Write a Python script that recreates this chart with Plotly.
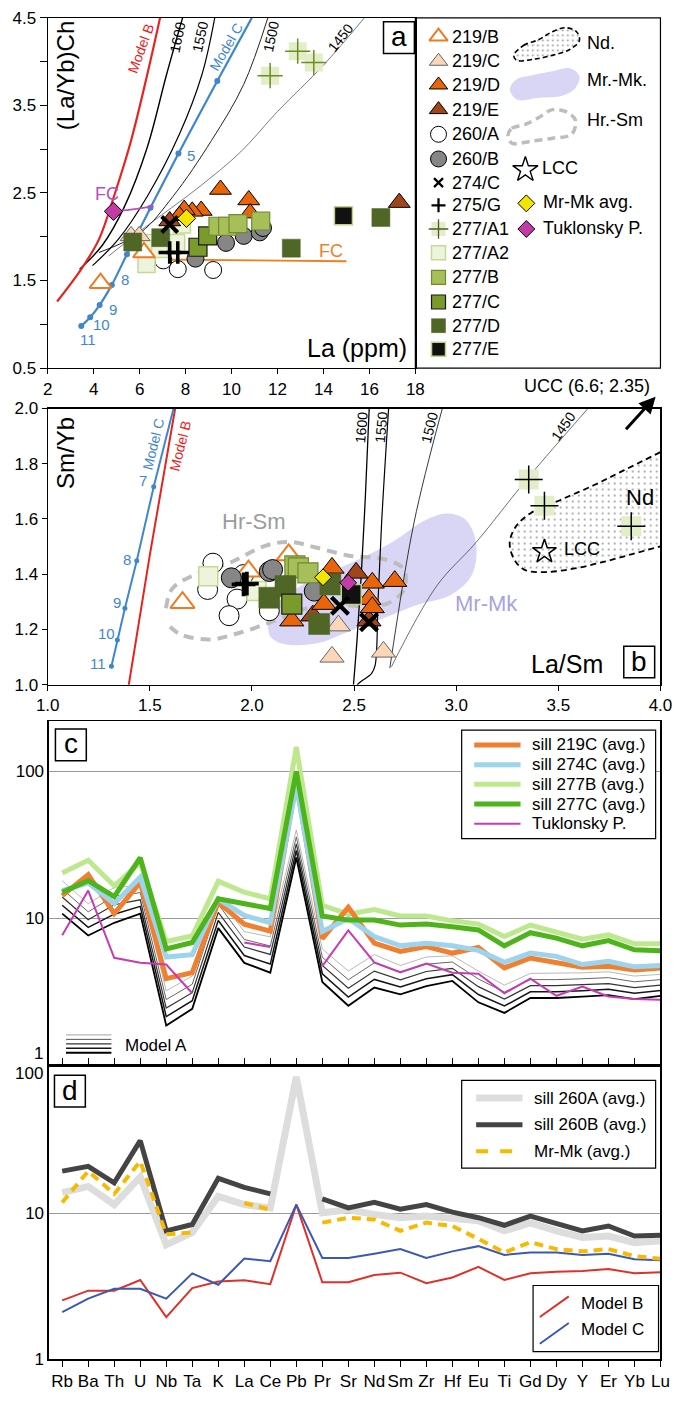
import plotly.graph_objects as go

W, H = 685, 1404
FONT = "Liberation Sans, Arial, Helvetica, sans-serif"


def fx(p):
    return p / W


def fy(p):
    return 1 - p / H


# ================= Panel a : (La/Yb)Ch vs La =================
a_modelB_la = [2.41, 3.46, 4.23, 4.93, 5.63, 6.33, 6.89]
a_modelB_ly = [1.26, 1.63, 1.97, 2.50, 3.10, 3.85, 4.50]
a_t1600_la = [3.39, 4.37, 5.35, 6.33, 7.17, 7.87]
a_t1600_ly = [1.63, 1.90, 2.35, 3.02, 3.85, 4.50]
a_t1550_la = [3.95, 5.07, 6.33, 7.73, 8.71, 9.27]
a_t1550_ly = [1.67, 1.97, 2.46, 3.17, 3.85, 4.50]
a_modelC_la = [3.46, 3.85, 4.26, 4.79, 5.45, 6.47, 7.69, 9.38, 10.88]
a_modelC_ly = [0.98, 1.08, 1.22, 1.45, 1.80, 2.33, 2.95, 3.78, 4.50]
a_t1500_la = [4.23, 6.05, 7.45, 9.13, 10.53, 11.58]
a_t1500_ly = [1.82, 2.05, 2.46, 3.10, 3.74, 4.50]
a_t1450_la = [4.65, 6.3, 8.5, 10.4, 12.0, 14.0, 15.78]
a_t1450_ly = [1.78, 2.12, 2.55, 2.97, 3.43, 3.96, 4.50]
a_fcO_la = [6.89, 15.0]
a_fcO_ly = [1.74, 1.72]
a_fcP_la = [4.86, 5.6, 6.61]
a_fcP_ly = [2.29, 2.31, 2.35]

a_219B = [(4.30, 1.47), (6.19, 1.82)]
a_219C = [(5.63, 2.01), (5.98, 2.01)]
a_219D = [(9.52, 2.54), (10.75, 2.42), (10.81, 2.27), (8.68, 2.30), (8.29, 2.29),
          (7.94, 2.31), (7.73, 2.24)]
a_219E = [(17.3, 2.39), (7.31, 2.18)]
a_260A = [(7.66, 1.63), (9.20, 1.62), (7.03, 1.73)]
a_260B = [(8.43, 1.75), (9.76, 1.93), (10.53, 2.01), (11.23, 2.05), (11.37, 2.10)]
a_274C = [(7.31, 2.14)]
a_275G = [(7.31, 1.82), (7.66, 1.82)]
a_277A1 = [(11.68, 3.84), (12.88, 4.12), (13.58, 3.99)]
a_277A2 = [(6.30, 1.69), (6.54, 1.93), (6.89, 1.86), (7.59, 1.93), (7.84, 2.14)]
a_277B = [(9.41, 2.12), (9.83, 2.12), (10.28, 2.15), (11.27, 2.18)]
a_277C = [(8.54, 1.88), (8.96, 2.01)]
a_277D = [(12.6, 1.87), (16.5, 2.22), (6.92, 1.99), (5.70, 1.94)]
a_277E = [(14.87, 2.24)]
a_mrmk = [(8.04, 2.21)]
a_tuk = [(4.86, 2.29)]

# ================= Panel b : Sm/Yb vs La/Sm =================
b_modelC_x = [1.312, 1.341, 1.378, 1.436, 1.519, 1.616]
b_modelC_y = [1.067, 1.162, 1.277, 1.449, 1.717, 2.0]
b_modelB_x = [1.386, 1.50, 1.624]
b_modelB_y = [0.95, 1.47, 2.0]
b_t1600_x = [2.497, 2.514, 2.535, 2.556, 2.574]
b_t1600_y = [1.0, 1.158, 1.396, 1.693, 2.0]
b_t1550_x = [2.515, 2.540, 2.585, 2.603, 2.617, 2.635, 2.669]
b_t1550_y = [1.0, 1.015, 1.04, 1.07, 1.30, 1.589, 2.0]
b_t1500_x = [2.675, 2.794, 2.932]
b_t1500_y = [1.06, 1.589, 2.0]
b_t1450_x = [2.683, 2.904, 3.097, 3.355, 3.645]
b_t1450_y = [1.065, 1.357, 1.515, 1.752, 2.0]

b_hrsm_x = [1.579, 1.610, 1.713, 1.899, 2.064, 2.188, 2.312, 2.477, 2.643, 2.742, 2.746,
            2.684, 2.581, 2.436, 2.271, 2.105, 1.940, 1.795, 1.651, 1.579]
b_hrsm_y = [1.277, 1.348, 1.396, 1.444, 1.503, 1.517, 1.497, 1.467, 1.455, 1.420, 1.348,
            1.301, 1.283, 1.289, 1.277, 1.230, 1.188, 1.164, 1.182, 1.224]
b_mrmk_x = [2.085, 2.105, 2.271, 2.477, 2.684, 2.839, 2.952, 3.045, 3.097, 3.076, 2.973,
            2.808, 2.643, 2.477, 2.312, 2.147]
b_mrmk_y = [1.182, 1.277, 1.372, 1.438, 1.515, 1.592, 1.620, 1.598, 1.515, 1.396, 1.325,
            1.289, 1.241, 1.194, 1.149, 1.149]
b_nd_x = [4.0, 3.820, 3.676, 3.510, 3.366, 3.293, 3.262, 3.283, 3.335, 3.438, 3.572, 3.717,
          3.862, 4.0]
b_nd_y = [1.842, 1.776, 1.723, 1.669, 1.622, 1.574, 1.515, 1.455, 1.416, 1.408, 1.420, 1.444,
          1.473, 1.501]
b_lcc = [(3.432, 1.482)]

b_219B = [(1.66, 1.297), (2.18, 1.47), (1.983, 1.411)]
b_219C = [(2.392, 1.101), (2.644, 1.119), (2.423, 1.214)]
b_219D = [(2.589, 1.369), (2.699, 1.375), (2.573, 1.31), (2.352, 1.292), (2.195, 1.232),
          (2.392, 1.423), (2.589, 1.28)]
b_219E = [(2.510, 1.405), (2.298, 1.25), (2.573, 1.232)]
b_260A = [(1.809, 1.44), (1.783, 1.345), (1.927, 1.31), (1.888, 1.25), (2.085, 1.268),
          (1.959, 1.399)]
b_260B = [(1.899, 1.387), (2.085, 1.41), (2.101, 1.417), (2.305, 1.339)]
b_274C = [(2.431, 1.286), (2.573, 1.226)]
b_275G = [(1.959, 1.363), (1.975, 1.366)]
b_277A1 = [(3.355, 1.743), (3.432, 1.648), (3.857, 1.574)]
b_277A2 = [(1.786, 1.393), (2.022, 1.339)]
b_277B = [(2.21, 1.43), (2.227, 1.423), (2.274, 1.405)]
b_277C = [(2.195, 1.292)]
b_277D = [(2.085, 1.315), (2.164, 1.357), (2.329, 1.22), (2.384, 1.363)]
b_277E = [(2.486, 1.327)]
b_mrmk = [(2.348, 1.389)]
b_tuk = [(2.471, 1.369)]

# ================= Panels c, d : spider diagrams =================
elements = ['Rb', 'Ba', 'Th', 'U', 'Nb', 'Ta', 'K', 'La', 'Ce', 'Pb', 'Pr', 'Sr', 'Nd', 'Sm',
            'Zr', 'Hf', 'Eu', 'Ti', 'Gd', 'Dy', 'Y', 'Er', 'Yb', 'Lu']

c_219C = [14.3, 19.9, 10.8, 17.6, 3.9, 4.28, 12.9, 9.16, 8.2, 85, 7.3, 11.9, 6.8, 5.97, 6.45,
          5.82, 6.35, 4.61, 5.39, 4.99, 4.67, 4.74, 4.46, 4.61]
c_274C = [15.5, 17.5, 12.6, 19.1, 5.47, 5.68, 13.6, 10.5, 9.35, 80, 8.15, 10.0, 7.53, 6.52,
          6.79, 6.52, 6.07, 5.03, 5.82, 5.53, 4.86, 5.12, 4.69, 4.79]
c_277B = [20.4, 24.9, 16.7, 24.0, 6.97, 7.6, 17.9, 15.1, 13.6, 147, 12.3, 10.7, 11.5, 10.4,
          10.4, 9.64, 9.16, 7.53, 9.02, 8.15, 7.23, 7.73, 6.73, 6.73]
c_277C = [15.1, 18.1, 14.1, 25.9, 6.2, 6.87, 13.6, 12.6, 11.7, 100, 10.4, 9.75, 9.75, 9.02,
          9.16, 8.8, 8.36, 6.52, 8.0, 7.35, 6.52, 7.08, 6.12, 6.04]
c_tuk = [7.7, 15.5, 5.4, 5.0, 4.86, 3.1, None, 6.87, 6.4, None, 4.74, 8.3, 5.03, 4.31, 4.94,
         4.28, 4.21, 3.1, 3.9, 2.98, 3.44, 2.95, 2.83, 2.80]
c_mA1 = [18.1, 12.6, 16.3, 16.7, 3.22, 4.06, 14.1, 8.15, 7.5, 40, 6.2, 4.39, 5.68, 4.79, 5.47,
         5.58, 4.39, 3.52, 4.23, 4.23, 4.27, 4.34, 4.06, 4.17]
c_mA2 = [15.9, 11.1, 14.2, 15.0, 2.81, 3.57, 12.5, 7.2, 6.5, 35.9, 5.45, 3.83, 4.99, 4.28, 4.89,
         5.06, 3.88, 3.16, 3.84, 3.84, 3.89, 3.96, 3.71, 3.84]
c_mA3 = [14.0, 9.8, 12.4, 13.4, 2.46, 3.13, 11.0, 6.4, 5.7, 32.2, 4.79, 3.35, 4.39, 3.83, 4.36,
         4.58, 3.44, 2.83, 3.49, 3.49, 3.55, 3.61, 3.39, 3.52]
c_mA4 = [12.3, 8.7, 10.7, 12.1, 2.15, 2.76, 9.7, 5.6, 4.9, 29.0, 4.21, 2.92, 3.85, 3.42, 3.89,
         4.15, 3.04, 2.54, 3.17, 3.17, 3.23, 3.30, 3.10, 3.24]
c_mA5 = [10.8, 7.66, 9.35, 10.8, 1.87, 2.43, 8.6, 4.99, 4.28, 26.0, 3.7, 2.55, 3.39, 3.05, 3.47,
         3.76, 2.69, 2.28, 2.88, 2.88, 2.94, 3.01, 2.83, 2.98]

d_260A = [13.9, 15.3, 11.5, 17.8, 6.1, 7.4, 13.1, 11.5, 10.9, 86, 10.1, 10.6, 9.85, 9.35, 9.6,
          9.35, 8.9, 7.6, 8.6, 7.6, 6.85, 7.0, 6.3, 6.5]
d_260B = [19.5, 21.0, 16.2, 31.5, 7.6, 8.4, 17.4, 15.1, 13.6, None, 12.6, 10.9, 11.9, 10.7,
          11.5, 10.2, 9.35, 8.3, 9.6, 8.6, 7.6, 8.2, 7.0, 7.1]
d_mrmk = [11.9, 19.5, 13.6, 22.8, 7.2, 7.4, None, 11.8, 10.6, None, 8.65, 9.35, 9.1, 7.6, 8.65,
          8.2, 6.7, 5.4, 6.35, 5.7, 5.5, 5.7, 5.1, 4.9]
d_modelB = [2.54, 2.96, 2.96, 3.5, 1.95, 3.08, 3.42, 3.49, 3.28, 11.5, 3.38, 3.38, 3.79, 3.93,
            3.33, 3.64, 4.31, 3.5, 3.89, 3.99, 4.03, 4.16, 3.89, 3.95]
d_modelC = [2.11, 2.61, 3.05, 3.05, 2.61, 3.89, 3.25, 4.91, 4.71, 11.5, 4.95, 4.95, 5.3, 5.7,
            4.95, 5.5, 5.97, 5.2, 5.4, 5.4, 5.2, 5.3, 4.86, 4.78]

# ================= Styles =================
C_ORANGE = '#EE7B22'
C_PEACH = '#FCD6B8'
C_ORANGE2 = '#E8650A'
C_BROWN = '#A1461A'
C_GRAY = '#868686'
C_A1 = '#E3EDC8'
C_A2F, C_A2L = '#EEF4DC', '#C3DA97'
C_BF, C_BL = '#A6BF59', '#6F8A30'
C_CF = '#7A9A2C'
C_DF = '#4F6626'
C_YEL = '#F2E600'
C_MAG = '#C23CA6'
C_RED = '#E8231E'
C_BLUE = '#3F87CC'


def mstyle(name, s):
    st = {
        '219/B': dict(symbol='triangle-up', color='white', line=dict(color=C_ORANGE, width=2)),
        '219/C': dict(symbol='triangle-up', color=C_PEACH, line=dict(color='#666', width=1)),
        '219/D': dict(symbol='triangle-up', color=C_ORANGE2, line=dict(color='black', width=1)),
        '219/E': dict(symbol='triangle-up', color=C_BROWN, line=dict(color='black', width=1)),
        '260/A': dict(symbol='circle', color='white', line=dict(color='black', width=1)),
        '260/B': dict(symbol='circle', color=C_GRAY, line=dict(color='black', width=1)),
        '274/C': dict(symbol='x-thin', color='black', line=dict(color='black', width=max(2, s / 4))),
        '275/G': dict(symbol='cross-thin', color='black', line=dict(color='black', width=max(2, s / 4.5))),
        '277/A1': dict(symbol='square', color=C_A1, line=dict(color=C_A1, width=0)),
        '277/A2': dict(symbol='square', color=C_A2F, line=dict(color=C_A2L, width=1.5)),
        '277/B': dict(symbol='square', color=C_BF, line=dict(color=C_BL, width=1.2)),
        '277/C': dict(symbol='square', color=C_CF, line=dict(color='#1a1a1a', width=1.2)),
        '277/D': dict(symbol='square', color=C_DF, line=dict(color=C_DF, width=0.5)),
        '277/E': dict(symbol='square', color='#111', line=dict(color='#BCD488', width=1.5)),
        'mrmk': dict(symbol='diamond', color=C_YEL, line=dict(color='black', width=1)),
        'tuk': dict(symbol='diamond', color=C_MAG, line=dict(color='black', width=1)),
    }[name]
    st = dict(st)
    st['size'] = s
    return st


fig = go.Figure()


def pts(data, name, s, xa, ya, cross_color=None):
    xs = [p[0] for p in data]
    ys = [p[1] for p in data]
    fig.add_trace(go.Scatter(x=xs, y=ys, mode='markers', marker=mstyle(name, s),
                             xaxis=xa, yaxis=ya, showlegend=False, hoverinfo='skip'))
    if cross_color:
        fig.add_trace(go.Scatter(x=xs, y=ys, mode='markers',
                                 marker=dict(symbol='cross-thin', size=s,
                                             line=dict(color=cross_color, width=1.5)),
                                 xaxis=xa, yaxis=ya, showlegend=False, hoverinfo='skip'))


def line(x, y, xa, ya, color, width, dash='solid', shape='linear', mode='lines', msize=0):
    fig.add_trace(go.Scatter(x=x, y=y, mode=mode, line=dict(color=color, width=width, dash=dash,
                                                             shape=shape),
                             marker=dict(size=msize, color=color),
                             xaxis=xa, yaxis=ya, showlegend=False, hoverinfo='skip'))


# ---- panel a lines ----
line(a_t1450_la, a_t1450_ly, 'x', 'y', '#444', 0.7, shape='spline')
line(a_t1500_la, a_t1500_ly, 'x', 'y', '#222', 1.0, shape='spline')
line(a_t1550_la, a_t1550_ly, 'x', 'y', 'black', 1.2, shape='spline')
line(a_t1600_la, a_t1600_ly, 'x', 'y', 'black', 1.4, shape='spline')
line(a_modelB_la, a_modelB_ly, 'x', 'y', C_RED, 2.2, shape='spline')
line(a_modelC_la[:-1], a_modelC_ly[:-1], 'x', 'y', C_BLUE, 2.2, shape='spline',
     mode='lines+markers', msize=6)
line(a_modelC_la[-2:], a_modelC_ly[-2:], 'x', 'y', C_BLUE, 2.2)
line(a_fcO_la, a_fcO_ly, 'x', 'y', '#F07F1E', 1.8)
line(a_fcP_la, a_fcP_ly, 'x', 'y', '#B84CC0', 1.8, shape='spline')

pts(a_260A, '260/A', 17, 'x', 'y')
pts(a_260B, '260/B', 17, 'x', 'y')
pts(a_277A2, '277/A2', 17, 'x', 'y')
pts(a_219C, '219/C', 19, 'x', 'y')
pts(a_219B, '219/B', 19, 'x', 'y')
pts(a_219D, '219/D', 19, 'x', 'y')
pts(a_219E, '219/E', 19, 'x', 'y')
pts(a_277D, '277/D', 18, 'x', 'y')
pts(a_277C, '277/C', 18, 'x', 'y')
pts(a_277B, '277/B', 18, 'x', 'y')
pts(a_277E, '277/E', 18, 'x', 'y')
pts(a_277A1, '277/A1', 18, 'x', 'y', cross_color='#6B8E23')
pts(a_274C, '274/C', 16, 'x', 'y')
pts(a_275G, '275/G', 16, 'x', 'y')
pts(a_mrmk, 'mrmk', 14, 'x', 'y')
pts(a_tuk, 'tuk', 14, 'x', 'y')

# ---- panel b regions ----
fig.add_trace(go.Scatter(x=b_mrmk_x + b_mrmk_x[:1], y=b_mrmk_y + b_mrmk_y[:1], mode='lines',
                         fill='toself', fillcolor='#D8D6F4', line=dict(width=0, shape='spline'),
                         xaxis='x2', yaxis='y2', showlegend=False, hoverinfo='skip'))
fig.add_trace(go.Scatter(x=b_nd_x, y=b_nd_y, mode='lines', fill='toself', fillcolor='white',
                         fillpattern=dict(shape='.', size=6, solidity=0.08, fgcolor='#222',
                                          bgcolor='white'),
                         line=dict(width=0, shape='spline'),
                         xaxis='x2', yaxis='y2', showlegend=False, hoverinfo='skip'))
line(b_nd_x, b_nd_y, 'x2', 'y2', 'black', 1.8, dash='6px,4px', shape='spline')
line(b_hrsm_x, b_hrsm_y, 'x2', 'y2', '#BDBDBD', 4, dash='10px,7px', shape='spline')

line(b_t1600_x, b_t1600_y, 'x2', 'y2', 'black', 1.3, shape='spline')
line(b_t1550_x, b_t1550_y, 'x2', 'y2', 'black', 1.2, shape='spline')
line(b_t1500_x, b_t1500_y, 'x2', 'y2', '#222', 0.9, shape='spline')
line(b_t1450_x, b_t1450_y, 'x2', 'y2', '#333', 0.7, shape='spline')
line(b_modelB_x, b_modelB_y, 'x2', 'y2', C_RED, 2.0)
line(b_modelC_x[:-1], b_modelC_y[:-1], 'x2', 'y2', C_BLUE, 2.0, mode='lines+markers', msize=5)
line(b_modelC_x[-2:], b_modelC_y[-2:], 'x2', 'y2', C_BLUE, 2.0)

fig.add_trace(go.Scatter(x=[p[0] for p in b_lcc], y=[p[1] for p in b_lcc], mode='markers',
                         marker=dict(symbol='star-open', size=18, color='black',
                                     line=dict(color='black', width=1.5)),
                         xaxis='x2', yaxis='y2', showlegend=False, hoverinfo='skip'))

pts(b_260A, '260/A', 20, 'x2', 'y2')
pts(b_277A2, '277/A2', 19, 'x2', 'y2')
pts(b_219B, '219/B', 21, 'x2', 'y2')
pts(b_260B, '260/B', 20, 'x2', 'y2')
pts(b_219C, '219/C', 21, 'x2', 'y2')
pts(b_219E, '219/E', 21, 'x2', 'y2')
pts(b_219D, '219/D', 21, 'x2', 'y2')
pts(b_277B, '277/B', 20, 'x2', 'y2')
pts(b_277D, '277/D', 21, 'x2', 'y2')
pts(b_277C, '277/C', 20, 'x2', 'y2')
pts(b_277E, '277/E', 20, 'x2', 'y2')
pts(b_277A1, '277/A1', 20, 'x2', 'y2', cross_color='black')
pts(b_274C, '274/C', 17, 'x2', 'y2')
pts(b_275G, '275/G', 17, 'x2', 'y2')
pts(b_mrmk, 'mrmk', 13, 'x2', 'y2')
pts(b_tuk, 'tuk', 13, 'x2', 'y2')

# ---- panel c ----
xi = list(range(len(elements)))
for vals, col, wd in [(c_mA1, '#8a8a8a', 0.6), (c_mA2, '#555', 0.9), (c_mA3, '#333', 1.2),
                      (c_mA4, '#151515', 1.5), (c_mA5, '#000', 1.8)]:
    line(xi, vals, 'x3', 'y3', col, wd)
line(xi, c_277B, 'x3', 'y3', '#BDE88E', 5)
line(xi, c_219C, 'x3', 'y3', '#F08030', 5)
line(xi, c_274C, 'x3', 'y3', '#9DD3EC', 5)
line(xi, c_277C, 'x3', 'y3', '#4DB51B', 5)
line(xi, c_tuk, 'x3', 'y3', '#C43DB4', 2)

# ---- panel d ----
line(xi, d_modelB, 'x4', 'y4', '#E0302A', 2)
line(xi, d_modelC, 'x4', 'y4', '#3B58B4', 2)
line(xi, d_260A, 'x4', 'y4', '#DDDDDD', 7)
line(xi, d_260B, 'x4', 'y4', '#444444', 5)
line(xi, d_mrmk, 'x4', 'y4', '#F7BA00', 4, dash='9px,6px')

# ================= Legend of panel a (drawn in pixel-space helper axes) =================
leg_names = ['219/B', '219/C', '219/D', '219/E', '260/A', '260/B', '274/C', '275/G', '277/A1',
             '277/A2', '277/B', '277/C', '277/D', '277/E']
leg_rows = [28, 53, 77, 102, 127, 152, 176, 199, 223, 247, 272, 297, 321, 345]
leg_sizes = [16, 16, 16, 16, 16, 16, 9, 10, 14, 14, 14, 14, 14, 14]
for nm, yy, sz in zip(leg_names, leg_rows, leg_sizes):
    fig.add_trace(go.Scatter(x=[442], y=[yy], mode='markers', marker=mstyle(nm, sz),
                             xaxis='x5', yaxis='y5', showlegend=False, hoverinfo='skip'))
    if nm == '277/A1':
        fig.add_trace(go.Scatter(x=[442], y=[yy], mode='markers',
                                 marker=dict(symbol='cross-thin', size=14,
                                             line=dict(color='#4a5a30', width=1.3)),
                                 xaxis='x5', yaxis='y5', showlegend=False, hoverinfo='skip'))
# region swatches
nd_sw_x = [520, 530, 546, 560, 574, 585, 588, 578, 560, 540, 523, 520]
nd_sw_y = [47, 37, 31, 23, 19, 23, 32, 41, 47, 51, 52, 47]
mm_sw_x = [516, 522, 540, 560, 578, 588, 584, 570, 546, 524, 516]
mm_sw_y = [82, 72, 67, 63, 60, 68, 80, 88, 90, 92, 82]
hs_sw_x = [514, 518, 532, 546, 560, 576, 584, 580, 560, 538, 518, 514]
hs_sw_y = [128, 121, 117, 110, 102, 105, 113, 127, 131, 134, 136, 128]
fig.add_trace(go.Scatter(x=nd_sw_x, y=nd_sw_y, mode='lines', fill='toself', fillcolor='white',
                         fillpattern=dict(shape='.', size=5, solidity=0.1, fgcolor='#222',
                                          bgcolor='white'),
                         line=dict(color='black', width=1.6, dash='5px,3px', shape='spline'),
                         xaxis='x5', yaxis='y5', showlegend=False, hoverinfo='skip'))
fig.add_trace(go.Scatter(x=mm_sw_x, y=mm_sw_y, mode='lines', fill='toself', fillcolor='#D8D6F4',
                         line=dict(width=0, shape='spline'),
                         xaxis='x5', yaxis='y5', showlegend=False, hoverinfo='skip'))
fig.add_trace(go.Scatter(x=hs_sw_x, y=hs_sw_y, mode='lines',
                         line=dict(color='#BDBDBD', width=3.5, dash='8px,5px', shape='spline'),
                         xaxis='x5', yaxis='y5', showlegend=False, hoverinfo='skip'))
fig.add_trace(go.Scatter(x=[532], y=[163], mode='markers',
                         marker=dict(symbol='star-open', size=19, color='black',
                                     line=dict(color='black', width=1.4)),
                         xaxis='x5', yaxis='y5', showlegend=False, hoverinfo='skip'))
fig.add_trace(go.Scatter(x=[533], y=[197], mode='markers', marker=mstyle('mrmk', 13),
                         xaxis='x5', yaxis='y5', showlegend=False, hoverinfo='skip'))
fig.add_trace(go.Scatter(x=[533], y=[223], mode='markers', marker=mstyle('tuk', 13),
                         xaxis='x5', yaxis='y5', showlegend=False, hoverinfo='skip'))

ann = []


def text_px(txt, x, y, size, color='black', xanchor='center', angle=0):
    ann.append(dict(x=fx(x), y=fy(y), xref='paper', yref='paper', text=txt, showarrow=False,
                    xanchor=xanchor, yanchor='middle', textangle=angle,
                    font=dict(size=size, color=color)))


def text_data(txt, x, y, xr, yr, size, color='black', angle=0):
    ann.append(dict(x=x, y=y, xref=xr, yref=yr, text=txt, showarrow=False, xanchor='center',
                    yanchor='middle', textangle=angle, font=dict(size=size, color=color)))


for nm, yy in zip(leg_names, leg_rows):
    text_px(nm, 454, yy, 18, xanchor='left')
for txt, xx, yy in [('Nd.', 594, 34), ('Mr.-Mk.', 594, 72), ('Hr.-Sm', 594, 113),
                    ('LCC', 547, 161), ('Mr-Mk avg.', 548, 196), ('Tuklonsky P.', 548, 222)]:
    text_px(txt, xx, yy, 18, xanchor='left')

# ---- panel a labels ----
for txt, xx, yy, col, ang, sz in [
        ('Model B', 6.03, 4.15, C_RED, -70, 14), ('1600', 7.66, 4.28, 'black', -78, 14),
        ('1550', 8.64, 4.28, 'black', -78, 14), ('Model C', 9.76, 4.17, C_BLUE, -60, 14),
        ('1500', 11.72, 4.28, 'black', -78, 14), ('1450', 14.73, 4.27, 'black', -52, 14)]:
    text_data(txt, xx, yy, 'x', 'y', sz, col, ang)
for txt, xx, yy in [('5', 8.22, 2.93), ('8', 5.35, 1.51), ('9', 4.82, 1.17), ('10', 4.34, 0.995),
                    ('11', 3.74, 0.83)]:
    text_data(txt, xx, yy, 'x', 'y', 15, C_BLUE)
text_data('FC', 4.58, 2.49, 'x', 'y', 18, '#B84CC0')
text_data('FC', 14.31, 1.84, 'x', 'y', 18, '#F07F1E')
text_px('(La/Yb)Ch', 55, 68, 24, angle=-90)
text_px('La (ppm)', 358, 344, 25)

# ---- panel b labels ----
for txt, xx, yy, col, ang, sz in [
        ('Model C', 1.517, 1.872, C_BLUE, -76, 14), ('Model B', 1.647, 1.866, C_RED, -76, 14),
        ('1600', 2.535, 1.93, 'black', -85, 14), ('1550', 2.632, 1.93, 'black', -85, 14),
        ('1500', 2.868, 1.93, 'black', -76, 14), ('1450', 3.526, 1.935, 'black', -55, 14)]:
    text_data(txt, xx, yy, 'x2', 'y2', sz, col, ang)
for txt, xx, yy in [('7', 1.465, 1.741), ('8', 1.386, 1.455), ('9', 1.337, 1.297),
                    ('10', 1.289, 1.184), ('11', 1.248, 1.077)]:
    text_data(txt, xx, yy, 'x2', 'y2', 15, C_BLUE)
text_px('Hr-Sm', 251, 520, 22, '#9C9C9C')
text_px('Mr-Mk', 492, 603, 22, '#A6A3E2')
text_px('Nd', 651, 495, 22)
text_px('LCC', 591, 547, 18)
text_px('Sm/Yb', 56, 450, 24, angle=-90)
text_px('La/Sm', 575, 664, 25)
text_px('UCC (6.6; 2.35)', 596, 382, 18)
ann.append(dict(x=fx(667), y=fy(393), xref='paper', yref='paper', text='', showarrow=True,
                ax=-31, ay=34, arrowhead=2, arrowsize=1.1, arrowwidth=3, arrowcolor='black'))

# ---- panel letters ----
shapes = []
for letter, cx, cy in [('a', 401, 29), ('b', 650, 662), ('c', 61, 746), ('d', 60, 1097)]:
    shapes.append(dict(type='rect', xref='paper', yref='paper', x0=fx(cx - 16), x1=fx(cx + 16),
                       y0=fy(cy + 16), y1=fy(cy - 16), line=dict(color='black', width=1.5),
                       fillcolor='white'))
    text_px(letter, cx, cy - 1, 28)

# legend box of panel a
shapes.append(dict(type='rect', xref='paper', yref='paper', x0=fx(418), x1=fx(672), y0=fy(364),
                   y1=fy(9), line=dict(color='black', width=1.2)))

# ---- legend of panel c ----
shapes.append(dict(type='rect', xref='paper', yref='paper', x0=fx(466), x1=fx(667), y0=fy(841),
                   y1=fy(731), line=dict(color='black', width=1.2), fillcolor='white',
                   layer='above'))
for txt, col, wd, yy in [('sill 219C (avg.)', '#F08030', 5, 746),
                         ('sill 274C (avg.)', '#9DD3EC', 5, 766),
                         ('sill 277B (avg.)', '#BDE88E', 5, 786),
                         ('sill 277C (avg.)', '#4DB51B', 5, 806),
                         ('Tuklonsky P.', '#C43DB4', 2, 826)]:
    shapes.append(dict(type='line', xref='paper', yref='paper', x0=fx(479), x1=fx(527),
                       y0=fy(yy), y1=fy(yy), line=dict(color=col, width=wd), layer='above'))
    text_px(txt, 537, yy, 17, xanchor='left')
# Model A key
for i, (col, wd) in enumerate([('#8a8a8a', 0.8), ('#555', 1.0), ('#333', 1.3), ('#151515', 1.6),
                               ('#000', 1.9)]):
    yy = 1040 + i * 4.5
    shapes.append(dict(type='line', xref='paper', yref='paper', x0=fx(56), x1=fx(103),
                       y0=fy(yy), y1=fy(yy), line=dict(color=col, width=wd)))
text_px('Model A', 115, 1051, 17, xanchor='left')

# ---- legends of panel d ----
shapes.append(dict(type='rect', xref='paper', yref='paper', x0=fx(466), x1=fx(667), y0=fy(1175),
                   y1=fy(1086), line=dict(color='black', width=1.2), fillcolor='white',
                   layer='above'))
for txt, col, wd, dash, yy in [('sill 260A (avg.)', '#DDDDDD', 7, 'solid', 1104),
                               ('sill 260B (avg.)', '#444444', 5, 'solid', 1131),
                               ('Mr-Mk (avg.)', '#F7BA00', 4, 'dash', 1158)]:
    shapes.append(dict(type='line', xref='paper', yref='paper', x0=fx(481), x1=fx(529),
                       y0=fy(yy), y1=fy(yy), line=dict(color=col, width=wd, dash=dash),
                       layer='above'))
    text_px(txt, 539, yy, 17, xanchor='left')
shapes.append(dict(type='rect', xref='paper', yref='paper', x0=fx(540), x1=fx(670), y0=fy(1361),
                   y1=fy(1294), line=dict(color='black', width=1.2), fillcolor='white',
                   layer='above'))
for txt, col, yy in [('Model B', '#E0302A', 1312), ('Model C', '#3B58B4', 1339)]:
    shapes.append(dict(type='line', xref='paper', yref='paper', x0=fx(547), x1=fx(577),
                       y0=fy(yy + 14), y1=fy(yy - 7), line=dict(color=col, width=2),
                       layer='above'))
    text_px(txt, 588, yy, 17, xanchor='left')

# edge tick labels of the log panels
text_px('1', 34, 1059, 17, xanchor='right')
text_px('100', 34, 1079, 17, xanchor='right')

# ================= Axes =================
ax_common = dict(showline=True, linecolor='black', linewidth=1.2, mirror=True, showgrid=False,
                 zeroline=False, tickcolor='black', tickfont=dict(size=17, color='black'))

layout = dict(
    width=W, height=H, margin=dict(l=0, r=0, t=0, b=0), paper_bgcolor='white',
    plot_bgcolor='rgba(0,0,0,0)', showlegend=False,
    font=dict(family=FONT, color='black'),
    xaxis=dict(domain=[fx(37), fx(418)], range=[2, 18], anchor='y',
               tickvals=list(range(2, 19, 2)), ticks='outside', ticklen=5, **ax_common),
    yaxis=dict(domain=[fy(364), fy(9)], range=[0.5, 4.5], anchor='x',
               tickvals=[0.5, 1.0, 1.5, 2.0, 2.5, 3.0, 3.5, 4.0, 4.5],
               ticktext=['0.5', '', '1.5', '', '2.5', '', '3.5', '', '4.5'],
               ticks='outside', ticklen=7, **ax_common),
    xaxis2=dict(domain=[fx(37), fx(672)], range=[1, 4], anchor='y2',
                tickvals=[1.0, 1.5, 2.0, 2.5, 3.0, 3.5, 4.0],
                ticktext=['1.0', '1.5', '2.0', '2.5', '3.0', '3.5', '4.0'],
                ticks='outside', ticklen=5, **ax_common),
    yaxis2=dict(domain=[fy(685), fy(405)], range=[1, 2], anchor='x2',
                tickvals=[1.0, 1.2, 1.4, 1.6, 1.8, 2.0],
                ticktext=['1.0', '1.2', '1.4', '1.6', '1.8', '2.0'],
                ticks='outside', ticklen=5, **ax_common),
    xaxis3=dict(domain=[fx(38), fx(672)], range=[-0.52, 23.0], anchor='y3', tickvals=xi,
                ticks='inside', ticklen=6, showticklabels=False, **ax_common),
    yaxis3=dict(domain=[fy(1071), fy(722)], type='log', range=[0, 2.342], anchor='x3',
                tickvals=[10, 100], ticktext=['10', '100'], ticks='',
                **{**ax_common, 'showgrid': True}, gridcolor='#9a9a9a', gridwidth=1),
    xaxis4=dict(domain=[fx(38), fx(672)], range=[-0.52, 23.0], anchor='y4', tickvals=xi,
                ticktext=elements, ticks='outside', ticklen=6,
                **{**ax_common, 'mirror': 'allticks'}),
    yaxis4=dict(domain=[fy(1369), fy(1071)], type='log', range=[0, 2.013], anchor='x4',
                tickvals=[1, 10], ticktext=['1', '10'], ticks='',
                **{**ax_common, 'showgrid': True}, gridcolor='#9a9a9a', gridwidth=1),
    xaxis5=dict(domain=[fx(418), fx(672)], range=[418, 672], anchor='y5', visible=False),
    yaxis5=dict(domain=[fy(364), fy(9)], range=[364, 9], anchor='x5', visible=False),
    shapes=shapes,
    annotations=ann,
)
fig.update_layout(**layout)
fig.write_html("out.html", config={'displayModeBar': False, 'staticPlot': True},
               post_script="document.body.style.margin='0px';document.body.style.overflow='hidden';")
